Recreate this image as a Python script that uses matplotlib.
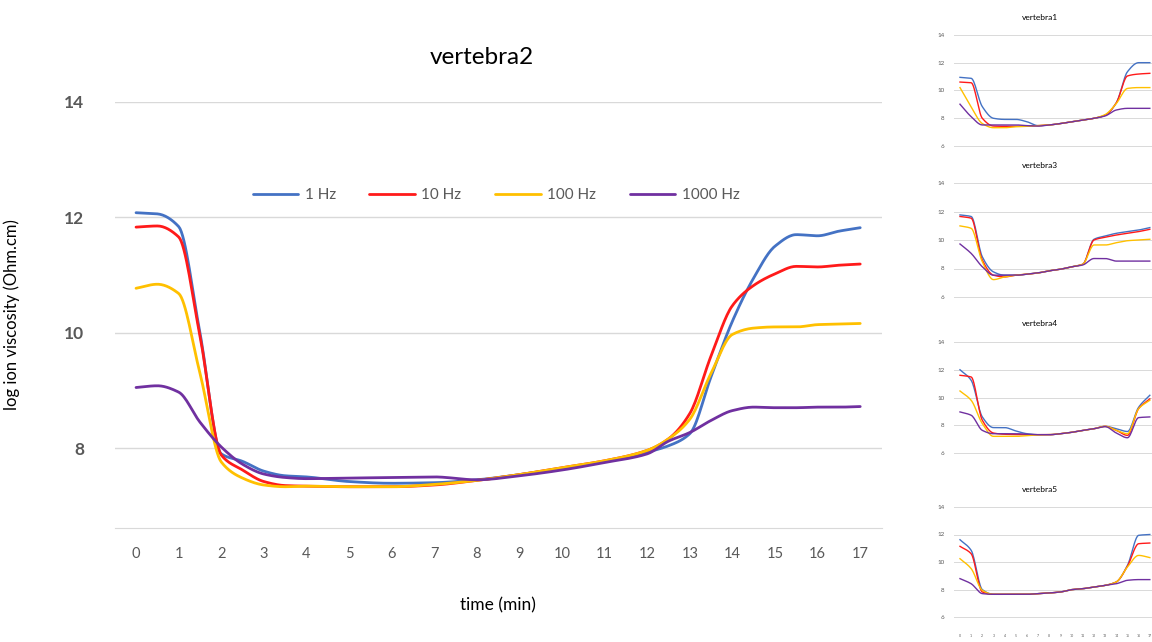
import numpy as np
import matplotlib.pyplot as plt

# main chart: vertebra2 (log ion viscosity vs time)
t_main = [0, 0.5, 1, 1.5, 2, 2.5, 3, 3.5, 4, 5, 6, 7, 8, 9, 10, 11, 12,
          12.5, 13, 13.5, 14, 14.5, 15, 15.5, 16, 16.5, 17]
v2_1hz = [12.08, 12.06, 11.84, 10.0, 7.9, 7.77, 7.6, 7.52, 7.5, 7.42, 7.39, 7.4, 7.45, 7.54,
          7.65, 7.77, 7.93, 8.04, 8.25, 9.24, 10.2, 10.95, 11.5, 11.7, 11.68, 11.76, 11.82]
v2_10hz = [11.83, 11.85, 11.66, 9.95, 7.88, 7.62, 7.42, 7.35, 7.34, 7.33, 7.33, 7.36, 7.44, 7.54,
           7.66, 7.78, 7.96, 8.16, 8.6, 9.6, 10.47, 10.82, 11.02, 11.15, 11.14, 11.17, 11.19]
v2_100hz = [10.77, 10.84, 10.68, 9.3, 7.76, 7.48, 7.36, 7.33, 7.34, 7.33, 7.33, 7.37, 7.44, 7.54,
            7.66, 7.78, 7.96, 8.16, 8.5, 9.3, 9.97, 10.08, 10.1, 10.1, 10.14, 10.15, 10.16]
v2_1000hz = [9.05, 9.08, 8.97, 8.45, 8.02, 7.72, 7.55, 7.49, 7.47, 7.48, 7.49, 7.5, 7.45, 7.52,
             7.62, 7.75, 7.9, 8.12, 8.27, 8.48, 8.65, 8.71, 8.7, 8.7, 8.71, 8.71, 8.72]

# small charts, one value per minute
t_small = list(range(18))
v1_1hz = [10.94, 10.87, 8.82, 7.98, 7.9, 7.9, 7.73, 7.45, 7.5, 7.6, 7.73, 7.85, 7.98, 8.2, 9.1, 11.35, 12.0, 12.0]
v1_10hz = [10.6, 10.55, 7.98, 7.42, 7.4, 7.4, 7.42, 7.45, 7.5, 7.6, 7.73, 7.85, 7.98, 8.2, 9.1, 11.04, 11.18, 11.23]
v1_100hz = [10.2, 8.8, 7.6, 7.3, 7.3, 7.37, 7.4, 7.45, 7.5, 7.6, 7.73, 7.85, 7.98, 8.25, 9.05, 10.14, 10.2, 10.2]
v1_1000hz = [9.0, 8.1, 7.5, 7.5, 7.5, 7.5, 7.45, 7.42, 7.5, 7.6, 7.73, 7.85, 7.98, 8.15, 8.58, 8.7, 8.7, 8.7]

v3_1hz = [11.76, 11.65, 8.82, 7.76, 7.53, 7.53, 7.6, 7.69, 7.84, 7.95, 8.12, 8.3, 10.05, 10.28, 10.47, 10.59, 10.7, 10.87]
v3_10hz = [11.65, 11.53, 8.59, 7.53, 7.41, 7.53, 7.6, 7.69, 7.84, 7.95, 8.12, 8.3, 10.0, 10.19, 10.35, 10.47, 10.59, 10.75]
v3_100hz = [10.99, 10.82, 8.47, 7.22, 7.41, 7.53, 7.6, 7.69, 7.84, 7.95, 8.12, 8.3, 9.65, 9.65, 9.81, 9.95, 10.0, 10.05]
v3_1000hz = [9.72, 9.06, 8.12, 7.53, 7.53, 7.53, 7.6, 7.69, 7.84, 7.95, 8.12, 8.25, 8.7, 8.7, 8.52, 8.52, 8.52, 8.52]

v4_1hz = [12.0, 11.24, 8.6, 7.83, 7.83, 7.59, 7.39, 7.32, 7.32, 7.39, 7.49, 7.63, 7.75, 7.92, 7.75, 7.55, 9.3, 10.16]
v4_10hz = [11.6, 11.48, 8.36, 7.44, 7.35, 7.33, 7.32, 7.32, 7.32, 7.39, 7.49, 7.63, 7.75, 7.92, 7.63, 7.27, 9.2, 9.9]
v4_100hz = [10.47, 9.8, 8.12, 7.2, 7.2, 7.2, 7.25, 7.3, 7.32, 7.39, 7.49, 7.63, 7.75, 7.92, 7.63, 7.39, 9.2, 9.8]
v4_1000hz = [8.96, 8.72, 7.63, 7.39, 7.39, 7.39, 7.35, 7.32, 7.32, 7.39, 7.49, 7.63, 7.75, 7.9, 7.44, 7.1, 8.55, 8.6]

v5_1hz = [11.62, 10.85, 7.99, 7.65, 7.65, 7.65, 7.65, 7.7, 7.75, 7.82, 7.99, 8.06, 8.18, 8.3, 8.55, 9.76, 11.94, 12.0]
v5_10hz = [11.14, 10.6, 7.82, 7.65, 7.65, 7.65, 7.65, 7.7, 7.75, 7.82, 7.99, 8.06, 8.18, 8.3, 8.55, 9.7, 11.33, 11.38]
v5_100hz = [10.24, 9.52, 7.94, 7.65, 7.65, 7.65, 7.65, 7.7, 7.75, 7.82, 7.99, 8.06, 8.18, 8.3, 8.55, 9.64, 10.48, 10.32]
v5_1000hz = [8.79, 8.42, 7.7, 7.65, 7.65, 7.65, 7.65, 7.7, 7.75, 7.82, 7.99, 8.06, 8.18, 8.3, 8.42, 8.67, 8.72, 8.72]

labels = ['1 Hz', '10 Hz', '100 Hz', '1000 Hz']
colors = ['#4472C4', '#FF1A1A', '#FFC000', '#7030A0']
x_ticks = list(range(18))
y_ticks = [8, 10, 12, 14]
y_ticks_small = [6, 8, 10, 12, 14]

plt.rcParams['font.family'] = ['Lato', 'DejaVu Sans']
txt_col = '#595959'
grid_col = '#d9d9d9'


def smooth(x, y, n=16):
    # monotone cubic through the points (no overshoot at the steep drops)
    x = np.asarray(x, float)
    y = np.asarray(y, float)
    h = np.diff(x)
    d = np.diff(y) / h
    m = np.zeros_like(y)
    m[0], m[-1] = d[0], d[-1]
    for i in range(1, len(y) - 1):
        if d[i - 1] * d[i] > 0:
            w1 = 2 * h[i] + h[i - 1]
            w2 = h[i] + 2 * h[i - 1]
            m[i] = (w1 + w2) / (w1 / d[i - 1] + w2 / d[i])
    xs, ys = [], []
    s = np.linspace(0, 1, n, endpoint=False)
    for i in range(len(x) - 1):
        h00 = 2 * s**3 - 3 * s**2 + 1
        h10 = s**3 - 2 * s**2 + s
        h01 = -2 * s**3 + 3 * s**2
        h11 = s**3 - s**2
        xs.append(x[i] + s * h[i])
        ys.append(h00 * y[i] + h10 * h[i] * m[i] + h01 * y[i + 1] + h11 * h[i] * m[i + 1])
    xs.append([x[-1]])
    ys.append([y[-1]])
    return np.concatenate(xs), np.concatenate(ys)


fig = plt.figure(figsize=(11.52, 6.42), dpi=100)

ax = fig.add_axes([0.0996, 0.1776, 0.6656, 0.6636])
for vals, c, lab in zip([v2_1hz, v2_10hz, v2_100hz, v2_1000hz], colors, labels):
    xs, ys = smooth(t_main, vals)
    ax.plot(xs, ys, color=c, lw=2.0, label=lab, solid_capstyle='round')
ax.set_xlim(-0.5, 17.5)
ax.set_ylim(6.615, 14)
ax.set_yticks(y_ticks)
ax.set_xticks(x_ticks)
ax.yaxis.grid(True, color=grid_col, lw=1)
ax.set_axisbelow(True)
for sp in ['top', 'left', 'right']:
    ax.spines[sp].set_visible(False)
ax.spines['bottom'].set_color(grid_col)
ax.tick_params(axis='both', length=0, colors=txt_col)
ax.tick_params(axis='y', labelsize=12.5, pad=22)
ax.tick_params(axis='x', labelsize=10.5, pad=14)
for lab in ax.get_yticklabels():
    lab.set_fontweight('bold')
ax.set_ylabel('log ion viscosity (Ohm.cm)', fontsize=12, color='black', labelpad=32)
ax.set_xlabel('time (min)', fontsize=12.5, color='black', labelpad=26)
fig.text(482 / 1152, 1 - 57 / 642, 'vertebra2', fontsize=17.5, ha='center', va='center')
ax.legend(loc='center', bbox_to_anchor=(496 / 1152, 1 - 195 / 642), bbox_transform=fig.transFigure,
          ncol=4, frameon=False, fontsize=11, labelcolor=txt_col, handlelength=3.0,
          handletextpad=0.4, columnspacing=2.2)

small = [
    ('vertebra1', [v1_1hz, v1_10hz, v1_100hz, v1_1000hz], 35, 145.7),
    ('vertebra3', [v3_1hz, v3_10hz, v3_100hz, v3_1000hz], 183, 297),
    ('vertebra4', [v4_1hz, v4_10hz, v4_100hz, v4_1000hz], 342, 453),
    ('vertebra5', [v5_1hz, v5_10hz, v5_100hz, v5_1000hz], 507, 617),
]
for k, (name, series, top, bot) in enumerate(small):
    sax = fig.add_axes([954.4 / 1152, 1 - bot / 642, 201 / 1152, (bot - top) / 642])
    for vals, c in zip(series, colors):
        xs, ys = smooth(t_small, vals)
        sax.plot(xs, ys, color=c, lw=1.0)
    sax.set_xlim(-0.5, 17.5)
    sax.set_ylim(6, 14)
    sax.set_yticks(y_ticks_small)
    sax.set_xticks(x_ticks)
    sax.yaxis.grid(True, color=grid_col, lw=0.7)
    sax.set_axisbelow(True)
    for sp in ['top', 'left', 'right']:
        sax.spines[sp].set_visible(False)
    sax.spines['bottom'].set_color(grid_col)
    sax.spines['bottom'].set_linewidth(0.7)
    sax.tick_params(axis='both', length=0, colors=txt_col)
    sax.tick_params(axis='y', labelsize=4.5, pad=7)
    if k == len(small) - 1:
        sax.tick_params(axis='x', labelsize=2.5, pad=12)
    else:
        sax.set_xticklabels([])
    fig.text(1040 / 1152, 1 - (top - 18) / 642, name, fontsize=6, ha='center', va='center')

fig.savefig('out.png', dpi=100)
